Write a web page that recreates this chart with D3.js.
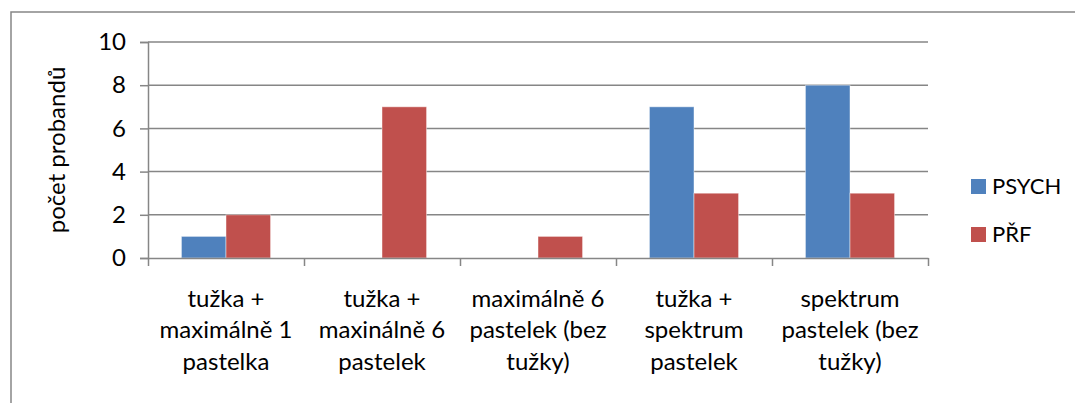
<!DOCTYPE html>
<html>
<head>
<meta charset="utf-8">
<script src="https://cdn.jsdelivr.net/npm/d3@7"></script>
<style>
  body { margin: 0; background: #fff; }
  text { font-family: Lato, "Open Sans", sans-serif; fill: #000; }
</style>
</head>
<body>
<div id="chart"></div>
<script>
// data
let categories = ["c1", "c2", "c3", "c4", "c5"];
let categoryLines = [
  ["tužka +", "maximálně 1", "pastelka"],
  ["tužka +", "maxinálně 6", "pastelek"],
  ["maximálně 6", "pastelek (bez", "tužky)"],
  ["tužka +", "spektrum", "pastelek"],
  ["spektrum", "pastelek (bez", "tužky)"]
];
let seriesNames = ["PSYCH", "PŘF"];
let psych = [1, 0, 0, 7, 8];
let prf = [2, 7, 1, 3, 3];
let yTicks = [0, 2, 4, 6, 8, 10];
let colors = ["#4f81bd", "#c0504d"];

let svgWidth = 1075;
let svgHeight = 403;
let plot = { left: 148, right: 928, top: 42, bottom: 258 };
let fontSize = 24;
let legendFontSize = 22;

let svg = d3.select("#chart")
  .append("svg")
  .attr("width", svgWidth)
  .attr("height", svgHeight);

// outer chart frame (runs off the right and bottom edges)
svg.append("rect")
  .attr("x", 11).attr("y", 12)
  .attr("width", svgWidth).attr("height", svgHeight)
  .attr("fill", "none")
  .attr("stroke", "#868686")
  .attr("stroke-width", 1.5);

// scales
let xScale = d3.scaleBand()
  .domain(categories)
  .range([plot.left, plot.right]);
let xSeries = d3.scaleBand()
  .domain(seriesNames)
  .range([0, xScale.bandwidth()])
  .paddingOuter(0.75);
let edgeScale = d3.scaleLinear()
  .domain([0, categories.length])
  .range([plot.left, plot.right]);
let yScale = d3.scaleLinear()
  .domain([0, 10])
  .range([plot.bottom, plot.top]);

// gridlines
svg.append("g")
  .selectAll("line")
  .data(yTicks.filter(d => d > 0))
  .enter()
  .append("line")
  .attr("x1", plot.left).attr("x2", plot.right)
  .attr("y1", d => yScale(d)).attr("y2", d => yScale(d))
  .attr("stroke", "#868686")
  .attr("stroke-width", 1.5);

// bars
let rows = categories.map((c, i) => ({ cat: c, values: [psych[i], prf[i]] }));
let groups = svg.append("g")
  .selectAll("g")
  .data(rows)
  .enter()
  .append("g")
  .attr("transform", d => `translate(${xScale(d.cat)},0)`);
groups.selectAll("rect")
  .data(d => d.values.map((v, j) => ({ name: seriesNames[j], value: v, color: colors[j] })))
  .enter()
  .append("rect")
  .filter(d => d.value > 0)
  .attr("x", d => xSeries(d.name))
  .attr("width", xSeries.bandwidth())
  .attr("y", d => yScale(d.value))
  .attr("height", d => yScale(0) - yScale(d.value))
  .attr("fill", d => d.color)
  .attr("stroke", "rgba(255,255,255,0.45)")
  .attr("stroke-width", 1);

// y axis
let leftAxis = d3.axisLeft(yScale).tickValues(yTicks).tickSize(8).tickPadding(14);
let yAxisG = svg.append("g")
  .attr("transform", `translate(${plot.left},0)`)
  .call(leftAxis);
yAxisG.selectAll(".domain").attr("stroke", "#868686").attr("stroke-width", 1.5);
yAxisG.selectAll(".tick line").attr("stroke", "#868686").attr("stroke-width", 1.5);
yAxisG.selectAll(".tick text")
  .style("font-size", fontSize + "px")
  .style("font-family", "Lato, sans-serif")
  .attr("fill", "#000");

// x axis (category boundary ticks)
let bottomAxis = d3.axisBottom(edgeScale)
  .tickValues(d3.range(categories.length + 1))
  .tickFormat("")
  .tickSize(8)
  .tickSizeOuter(0);
let xAxisG = svg.append("g")
  .attr("transform", `translate(0,${plot.bottom})`)
  .call(bottomAxis);
xAxisG.selectAll(".domain").attr("stroke", "#868686").attr("stroke-width", 1.5);
xAxisG.selectAll(".tick line").attr("stroke", "#868686").attr("stroke-width", 1.5);

// category labels
let labels = svg.append("g")
  .selectAll("text")
  .data(categories)
  .enter()
  .append("text")
  .attr("text-anchor", "middle")
  .style("font-size", fontSize + "px");
labels.selectAll("tspan")
  .data((d, i) => categoryLines[i].map(line => ({ line: line, cat: d })))
  .enter()
  .append("tspan")
  .attr("x", d => xScale(d.cat) + xScale.bandwidth() / 2)
  .attr("y", (d, k) => 306.5 + k * 31.7)
  .text(d => d.line);

// y axis title
svg.append("text")
  .attr("transform", `translate(65, ${(plot.top + plot.bottom) / 2}) rotate(-90)`)
  .attr("text-anchor", "middle")
  .style("font-size", fontSize + "px")
  .text("počet probandů");

// legend
let legend = svg.append("g")
  .selectAll("g")
  .data(seriesNames)
  .enter()
  .append("g")
  .attr("transform", (d, i) => `translate(971, ${179 + i * 48})`);
legend.append("rect")
  .attr("width", 15).attr("height", 15)
  .attr("fill", (d, i) => colors[i]);
legend.append("text")
  .attr("x", 21).attr("y", 15)
  .style("font-size", legendFontSize + "px")
  .text(d => d);
</script>
</body>
</html>
